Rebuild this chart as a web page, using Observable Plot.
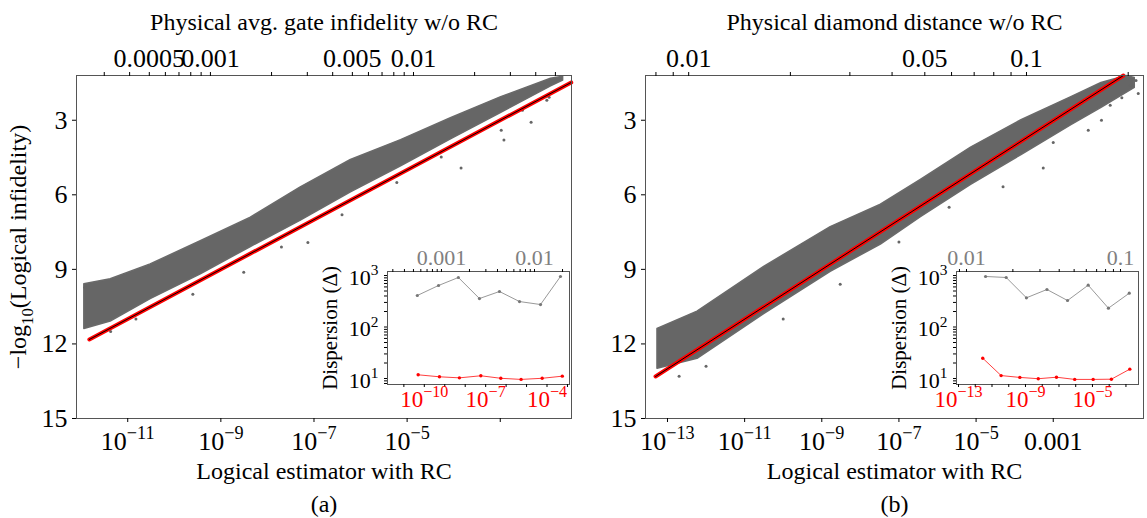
<!DOCTYPE html>
<html><head><meta charset="utf-8">
<script src="https://cdn.jsdelivr.net/npm/d3@7"></script>
<script src="https://cdn.jsdelivr.net/npm/@observablehq/plot@0.6"></script>
<style>
body{margin:0;background:#fff;}
#chart{position:relative;width:1147px;height:518px;overflow:hidden;background:#fff;}
#chart svg{position:absolute;left:0;top:0;}
#chart svg, #chart svg text, #chart svg tspan{font-family:"Liberation Serif","DejaVu Serif",serif !important;}
</style></head><body><div id="chart"></div>
<script>
// ---------- Panel (a) data ----------
const cloudAx   = [1.17e-12, 4.3e-12, 3.1e-11, 3.7e-10, 4.4e-9, 5.2e-8, 6.2e-7, 7.4e-6, 8.7e-5, 1.05e-3, 1.23e-2, 2.24e-2];
const cloudAtop = [9.6, 9.4, 8.8, 7.87, 6.92, 5.7, 4.6, 3.8, 2.92, 2.07, 1.33, 1.25];
const cloudAbot = [11.4, 11.1, 10.2, 9.2, 8.1, 7.04, 5.9, 4.85, 3.77, 2.7, 1.64, 1.4];
const outAx = [1.44e-4, 1.2e-3, 7.4e-8, 3.1e-9, 4.3e-12, 2.5e-10, 1.5e-11, 6e-6, 3e-3, 1e-2, 4e-7, 2e-8, 4.6e-3, 1.05e-3, 1.12e-2, 5.4e-5, 1.2e-12];
const outAy = [4.92, 3.8, 7.92, 9.12, 11.5, 10.0, 11.0, 5.5, 2.6, 2.2, 6.8, 8.1, 3.08, 3.4, 2.08, 4.48, 9.72];
const redAx = [1.5e-12, 0.0334];
const redAy = [11.82, 1.48];
const bottomTicksA = [1e-11, 1e-9, 1e-7, 1e-5, 1e-3];
const bottomLabelsA = ["10^{−11}", "10^{−9}", "10^{−7}", "10^{−5}", ""];
const topTicksA = [0.0003,0.0004,0.0005,0.0006,0.0007,0.0008,0.0009,0.001,0.002,0.003,0.004,0.005,0.006,0.007,0.008,0.009,0.01,0.02,0.03,0.04,0.05];
const topLabeledA = [0.0005, 0.001, 0.005, 0.01];
const topLabelsA = ["0.0005", "0.001", "0.005", "0.01"];
// inset (a)
const insAphys = [5.5e-4, 9.3e-4, 1.52e-3, 2.56e-3, 4.2e-3, 6.9e-3, 1.16e-2, 1.9e-2];
const insAgray = [409, 640, 915, 357, 489, 312, 273, 956];
const insAest  = [5e-11, 5.5e-10, 5.2e-9, 5.8e-8, 5.5e-7, 5.4e-6, 5.8e-5, 5.6e-4];
const insAred  = [11.8, 10.8, 10.3, 11.3, 10.1, 9.6, 10.1, 11.1];
const insAxTicks = [1e-11,1e-10,1e-9,1e-8,1e-7,1e-6,1e-5,1e-4,1e-3];
const insAxLabeled = [1e-10, 1e-7, 1e-4];
const insAxLabels = ["10^{−10}", "10^{−7}", "10^{−4}"];
const insAtopTicks = [0.0003,0.0004,0.0005,0.0006,0.0007,0.0008,0.0009,0.001,0.002,0.003,0.004,0.005,0.006,0.007,0.008,0.009,0.01,0.02];
const insAtopLabeled = [0.001, 0.01];
const insAtopLabels = ["0.001", "0.01"];

// ---------- Panel (b) data ----------
const cloudBx   = [5.5e-14, 6e-13, 3.2e-11, 1.7e-9, 3.4e-8, 3.7e-7, 7.4e-6, 1.5e-4, 2.95e-3, 1.78e-2, 7.9e-2, 0.13];
const cloudBtop = [11.4, 10.7, 8.9, 7.3, 6.4, 5.4, 4.1, 3.0, 2.07, 1.5, 1.22, 1.3];
const cloudBbot = [13.0, 12.6, 10.8, 9.1, 8.0, 6.9, 5.6, 4.4, 3.2, 2.5, 1.9, 1.7];
const outBx = [5.5e-4, 5e-5, 8.1e-3, 0.0178, 0.16, 0.14, 1.3e-12, 1e-12, 2e-13, 1e-10, 3e-9, 1e-7, 2e-6, 1e-3, 0.03, 0.06, 0.1, 3.2e-10];
const outBy = [4.92, 5.68, 3.4, 3.0, 1.92, 1.4, 12.1, 12.9, 13.3, 11.0, 9.6, 7.9, 6.5, 3.9, 2.4, 2.1, 1.6, 8.0];
const redBx = [4.9e-14, 0.066];
const redBy = [13.31, 1.2];
const bottomTicksB = [1e-13, 1e-11, 1e-9, 1e-7, 1e-5, 1e-3];
const bottomLabelsB = ["10^{−13}", "10^{−11}", "10^{−9}", "10^{−7}", "10^{−5}", "0.001"];
const topTicksB = [0.008,0.009,0.01,0.02,0.03,0.04,0.05,0.06,0.07,0.08,0.09,0.1,0.2];
const topLabeledB = [0.01, 0.05, 0.1];
const topLabelsB = ["0.01", "0.05", "0.1"];
// inset (b)
const insBphys = [0.0133, 0.0181, 0.0245, 0.0333, 0.0453, 0.0617, 0.0835, 0.114];
const insBgray = [957, 915, 369, 535, 327, 649, 232, 453];
const insBest  = [2.8e-12, 3.5e-11, 4.6e-10, 5.8e-9, 7.1e-8, 8.7e-7, 1.1e-5, 1.35e-4, 1.7e-3];
const insBred  = [24.8, 11.4, 10.5, 9.9, 10.6, 9.6, 9.6, 9.7, 15.2];
const insBxTicks = [1e-13,1e-12,1e-11,1e-10,1e-9,1e-8,1e-7,1e-6,1e-5,1e-4,1e-3];
const insBxLabeled = [1e-13, 1e-9, 1e-5];
const insBxLabels = ["10^{−13}", "10^{−9}", "10^{−5}"];
const insBtopTicks = [0.009,0.01,0.02,0.03,0.04,0.05,0.06,0.07,0.08,0.09,0.1];
const insBtopLabeled = [0.01, 0.1];
const insBtopLabels = ["0.01", "0.1"];

// shared
const yTicks = [3, 6, 9, 12, 15];
const insYTicks = [8,9,10,20,30,40,50,60,70,80,90,100,200,300,400,500,600,700,800,900,1000];
const insYLabeled = [10, 100, 1000];
const insYLabels = ["10^{1}", "10^{2}", "10^{3}"];
const yTitle = "−log_{10}(Logical infidelity)";
const xTitle = "Logical estimator with RC";
const insetTitle = "Dispersion (Δ)";
const topTitleA = "Physical avg. gate infidelity w/o RC";
const topTitleB = "Physical diamond distance w/o RC";
const captions = ["(a)", "(b)"];

// ---------- helpers ----------
const W = 1147, H = 518;
const FONT = "'Liberation Serif', 'DejaVu Serif', serif";
const chart = document.getElementById("chart");
const zip = (xs, ys) => xs.map((x, i) => ({x, y: ys[i]}));
const band = (xs, t, b) => xs.map((x, i) => ({x, top: t[i], bottom: b[i]}));
const lab = (vs, ls) => vs.map((v, i) => ({v, l: ls[i]}));
const blank = () => "";

function richify(svg) {
  const NS = "http://www.w3.org/2000/svg";
  svg.setAttribute("font-family", FONT);
  svg.querySelectorAll("text").forEach(t => {
    const s = t.textContent;
    if (!/[\^_]\{/.test(s)) return;
    while (t.firstChild) t.removeChild(t.firstChild);
    const re = /([\^_])\{([^}]*)\}/g;
    let last = 0, m, restore = null;
    const add = (txt, small, dy) => {
      const ts = document.createElementNS(NS, "tspan");
      ts.textContent = txt;
      if (small) ts.setAttribute("font-size", "70%");
      if (dy) ts.setAttribute("dy", dy);
      t.appendChild(ts);
    };
    while ((m = re.exec(s))) {
      if (m.index > last) { add(s.slice(last, m.index), false, restore); restore = null; }
      if (m[1] === "^") { add(m[2], true, "-0.6em"); restore = "0.42em"; }
      else { add(m[2], true, "0.4em"); restore = "-0.28em"; }
      last = re.lastIndex;
    }
    if (last < s.length) add(s.slice(last), false, restore);
  });
}
function put(svg) { richify(svg); chart.appendChild(svg); }

function mainPanel(p) {
  const marks = [
    Plot.areaY(band(p.cx, p.ct, p.cb), {x: "x", y1: "top", y2: "bottom", fill: "#666", stroke: "#6a6a6a", strokeWidth: 1.5, curve: "linear"}),
    Plot.dot(zip(p.ox, p.oy), {x: "x", y: "y", r: 1.5, fill: "#666"}),
    Plot.line(zip(p.rx, p.ry), {x: "x", y: "y", stroke: "red", strokeWidth: 4}),
    Plot.line(zip(p.rx, p.ry), {x: "x", y: "y", stroke: "black", strokeWidth: 1}),
    Plot.frame({stroke: "#555"}),
    Plot.axisX({anchor: "bottom", ticks: p.bt, tickFormat: blank, tickSize: 4, label: null}),
    Plot.text(lab(p.bt, p.bl), {x: "v", text: "l", frameAnchor: "bottom", lineAnchor: "top", dy: 13, fontSize: 26}),
    Plot.axisY({anchor: "left", ticks: yTicks, tickSize: 4, tickPadding: 5, fontSize: 26, label: null}),
    Plot.text([xTitle], {frameAnchor: "bottom", lineAnchor: "middle", textAnchor: "middle", dy: 53, fontSize: 24}),
    Plot.text([p.cap], {frameAnchor: "bottom", lineAnchor: "middle", textAnchor: "middle", dy: 86, fontSize: 24})
  ];
  if (p.yTitle) marks.push(Plot.text([p.yTitle], {frameAnchor: "left", rotate: -90, textAnchor: "middle", lineAnchor: "middle", dx: -58, fontSize: 24}));
  return Plot.plot({
    width: W, height: H, marginLeft: p.left, marginRight: W - p.right, marginTop: 75, marginBottom: H - 418,
    style: {background: p.bg, fontFamily: FONT, color: "black"},
    x: {type: "log", domain: p.xd, label: null},
    y: {domain: [15, 1.2], label: null},
    marks
  });
}
function topAxis(p) {
  return Plot.plot({
    width: W, height: H, marginLeft: p.left, marginRight: W - p.right, marginTop: 75, marginBottom: H - 418,
    style: {background: "transparent", fontFamily: FONT, color: "black"},
    x: {type: "log", domain: p.td, label: null},
    marks: [
      Plot.axisX({anchor: "top", ticks: p.tt, tickFormat: blank, tickSize: 4, label: null}),
      Plot.text(lab(p.tlv, p.tl), {x: "v", text: "l", frameAnchor: "top", lineAnchor: "bottom", dy: -9, fontSize: 26}),
      Plot.text([p.title], {frameAnchor: "top", lineAnchor: "middle", textAnchor: "middle", dy: -53, fontSize: 24})
    ]
  });
}
const insYDomain = [7.65, 1196];
function inset(p) {
  return Plot.plot({
    width: W, height: H, marginLeft: p.il, marginRight: W - p.ir, marginTop: 271, marginBottom: H - 384,
    style: {background: "transparent", fontFamily: FONT, color: "black"},
    x: {type: "log", domain: p.ixd, label: null},
    y: {type: "log", domain: insYDomain, label: null},
    marks: [
      Plot.frame({fill: "white", stroke: "#555"}),
      Plot.line(zip(p.iex, p.iey), {x: "x", y: "y", stroke: "#ff4040", strokeWidth: 1}),
      Plot.dot(zip(p.iex, p.iey), {x: "x", y: "y", r: 1.7, fill: "red"}),
      Plot.axisX({anchor: "bottom", ticks: p.ixt, tickFormat: blank, tickSize: 3, label: null}),
      Plot.text(lab(p.ixlv, p.ixl), {x: "v", text: "l", frameAnchor: "bottom", lineAnchor: "top", dy: 6, fill: "red", fontSize: 23}),
      Plot.axisY({anchor: "left", ticks: insYTicks, tickFormat: blank, tickSize: 3, label: null}),
      Plot.text(lab(insYLabeled, insYLabels), {y: "v", text: "l", frameAnchor: "left", textAnchor: "end", lineAnchor: "middle", dx: -9, dy: 2, fontSize: 22}),
      Plot.text([insetTitle], {frameAnchor: "left", rotate: -90, textAnchor: "middle", lineAnchor: "middle", dx: -57, fontSize: 21})
    ]
  });
}
function insetTop(p) {
  return Plot.plot({
    width: W, height: H, marginLeft: p.il, marginRight: W - p.ir, marginTop: 271, marginBottom: H - 384,
    style: {background: "transparent", fontFamily: FONT, color: "black"},
    x: {type: "log", domain: p.itd, label: null},
    y: {type: "log", domain: insYDomain, label: null, axis: null},
    marks: [
      Plot.line(zip(p.ipx, p.ipy), {x: "x", y: "y", stroke: "#999", strokeWidth: 1}),
      Plot.dot(zip(p.ipx, p.ipy), {x: "x", y: "y", r: 1.6, fill: "#777"}),
      Plot.axisX({anchor: "top", ticks: p.itt, tickFormat: blank, tickSize: 3, label: null}),
      Plot.text(lab(p.itlv, p.itl), {x: "v", text: "l", frameAnchor: "top", lineAnchor: "bottom", dy: -7, fill: "#808080", fontSize: 22})
    ]
  });
}

const A = {
  left: 76, right: 571, bg: "white", xd: [10 ** -12.1, 10 ** -1.47], cx: cloudAx, ct: cloudAtop, cb: cloudAbot,
  ox: outAx, oy: outAy, rx: redAx, ry: redAy, bt: bottomTicksA, bl: bottomLabelsA, cap: captions[0], yTitle: yTitle,
  td: [2.19e-4, 0.06], tt: topTicksA, tlv: topLabeledA, tl: topLabelsA, title: topTitleA,
  il: 387, ir: 569, ixd: [10 ** -11.8, 10 ** -2.9], iex: insAest, iey: insAred, ixt: insAxTicks, ixlv: insAxLabeled, ixl: insAxLabels,
  itd: [10 ** -3.58, 10 ** -1.624], ipx: insAphys, ipy: insAgray, itt: insAtopTicks, itlv: insAtopLabeled, itl: insAtopLabels
};
const B = {
  left: 645, right: 1143, bg: "transparent", xd: [10 ** -13.57, 10 ** -0.66], cx: cloudBx, ct: cloudBtop, cb: cloudBbot,
  ox: outBx, oy: outBy, rx: redBx, ry: redBy, bt: bottomTicksB, bl: bottomLabelsB, cap: captions[1], yTitle: null,
  td: [0.00745, 0.222], tt: topTicksB, tlv: topLabeledB, tl: topLabelsB, title: topTitleB,
  il: 956, ir: 1138, ixd: [10 ** -13.12, 10 ** -2.25], iex: insBest, iey: insBred, ixt: insBxTicks, ixlv: insBxLabeled, ixl: insBxLabels,
  itd: [10 ** -2.065, 10 ** -0.883], ipx: insBphys, ipy: insBgray, itt: insBtopTicks, itlv: insBtopLabeled, itl: insBtopLabels
};
for (const p of [A, B]) { put(mainPanel(p)); put(topAxis(p)); put(inset(p)); put(insetTop(p)); }
</script></body></html>
